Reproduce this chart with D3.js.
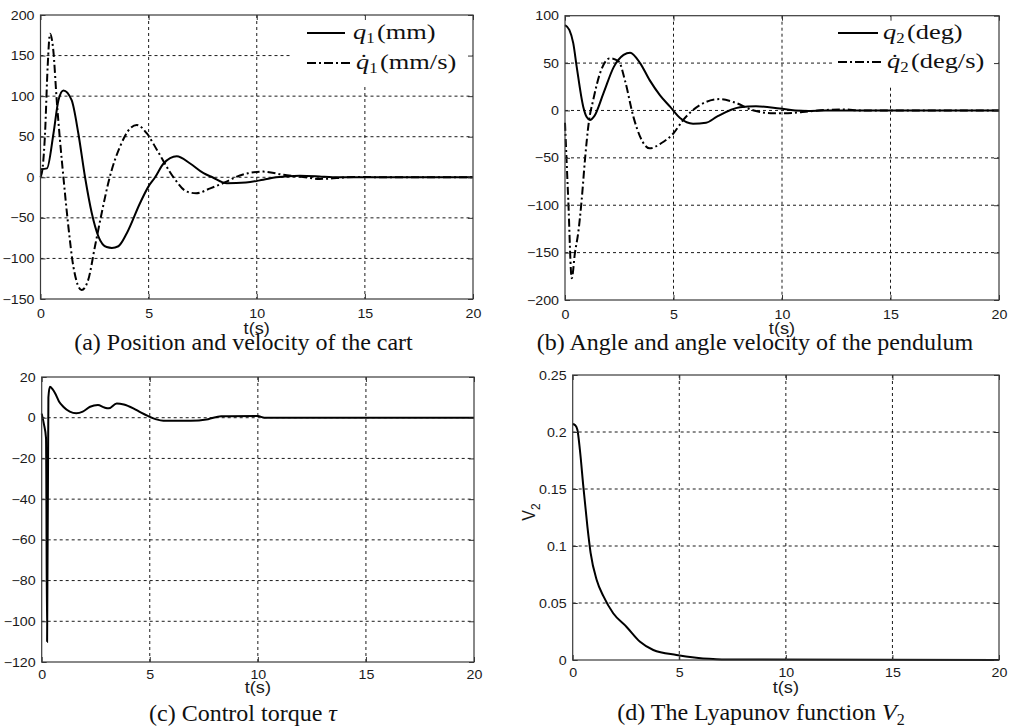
<!DOCTYPE html>
<html>
<head>
<meta charset="utf-8">
<script src="https://cdn.jsdelivr.net/npm/d3@7"></script>
<style>
  body { margin: 0; background: #fff; }
  .tick text { font-family: Arial, "Liberation Sans", sans-serif; font-size: 12.5px; fill: #1a1a1a; }
  .xlab { font-family: Arial, "Liberation Sans", sans-serif; font-size: 16px; fill: #1a1a1a; }
  .cap { font-family: "Liberation Serif", "Times New Roman", serif; font-size: 24px; fill: #111; }
  .leg { font-family: "Liberation Serif", "Times New Roman", serif; font-size: 22px; fill: #111; }
</style>
</head>
<body>
<div id="chart"></div>
<script>
/* CONSTANTS */
const width = 1011, height = 727,
  S = 1.14; // the figure text is a bit wider than tall

/* DATA */
const tTicks = [0, 5, 10, 15, 20];

// (a) cart
const q1T = [0, 0.3, 0.6, 0.83, 1.06, 1.44, 1.75, 2.06, 2.37, 2.68, 3.06, 3.3, 3.6, 3.99, 4.6, 4.99, 5.3, 5.69, 6.3, 6.92, 7.54, 7.95, 8.62, 9.5, 10.3, 10.9, 12, 12.9, 13.5, 20];
const q1V = [10, 11, 54, 95, 107, 95, 54, 0, -44, -73, -86, -87, -85, -69, -32, -11.5, 0, 17, 26, 17, 5, 0, -7.4, -6.5, -3, 0, 2, 1, 0, 0];
const q1dT = [0, 0.1, 0.21, 0.33, 0.44, 0.59, 0.75, 0.9, 1.06, 1.29, 1.52, 1.9, 2.2, 2.52, 2.83, 3.2, 3.68, 4.14, 4.45, 4.92, 5.38, 6.15, 6.77, 7.2, 7.85, 8.6, 9.0, 9.6, 10.3, 11.24, 12, 12.9, 13.7, 14.5, 16, 20];
const q1dV = [0, 12, 54, 136, 177, 157, 95, 46, 0, -61, -110, -139, -127, -85, -44, 0, 38, 60, 64.5, 54, 34, 0, -17.7, -19.7, -13.6, -5.4, 0, 5, 7, 3, 1, -2, -1, 0.5, 0, 0];

// (b) pendulum
const q2T = [0, 0.2, 0.38, 0.54, 0.84, 1.0, 1.15, 1.35, 1.77, 2.25, 2.7, 3.0, 3.46, 3.9, 4.38, 4.84, 5.3, 5.9, 6.5, 7.0, 8.06, 8.8, 9.9, 10.6, 11.2, 12, 20];
const q2V = [90, 85, 71, 46, 4, -7, -10, -6, 18, 46, 58.6, 61, 50, 32, 16, 4, -8, -14, -13, -6.5, 3.3, 4.5, 2, 0, -0.5, 0, 0];
const q2dT = [0, 0.15, 0.31, 0.46, 0.61, 0.77, 0.92, 1.1, 1.3, 1.61, 2.07, 2.48, 2.76, 3.15, 3.46, 3.9, 4.43, 5.0, 5.45, 5.9, 6.5, 7.15, 7.75, 8.7, 9.6, 10.5, 11.2, 12, 13, 13.5, 20];
const q2dV = [-13, -94, -177, -150, -129, -94, -52, -12, 11, 39, 55, 51.5, 32, -6.5, -27.6, -40, -34.6, -24, -10, 0.5, 9, 12, 9, 0, -3, -2.5, -1, 0.5, 1, 0, 0];

// (c) control torque
const tauT = [0, 0.1, 0.2, 0.25, 0.31, 0.38, 0.5, 0.62, 0.8, 1.0, 1.3, 1.6, 1.9, 2.24, 2.6, 2.9, 3.1, 3.47, 3.8, 4.24, 4.6, 4.93, 5.3, 5.63, 6.9, 7.7, 8.3, 10, 10.3, 20];
const tauV = [2, -3, -10, -110, 10, 15.2, 14, 12, 8, 5.4, 3, 2.2, 3, 5.4, 6.2, 5, 4.6, 7, 6.5, 4.6, 2.5, 0.8, -0.8, -1.5, -1.5, -0.7, 0.7, 0.8, 0, 0];

// (d) Lyapunov function
const v2T = [0, 0.12, 0.22, 0.34, 0.5, 0.69, 0.84, 1.13, 1.44, 1.9, 2.53, 3.16, 3.78, 4.87, 5.8, 6.4, 7, 20];
const v2V = [0.207, 0.206, 0.202, 0.184, 0.152, 0.117, 0.094, 0.070, 0.056, 0.041, 0.029, 0.016, 0.0088, 0.0044, 0.002, 0.001, 0.0005, 0];

const aTicks = [-150, -100, -50, 0, 50, 100, 150, 200];
const bTicks = [-200, -150, -100, -50, 0, 50, 100];
const cTicks = [-120, -100, -80, -60, -40, -20, 0, 20];
const dTicks = [0, 0.05, 0.1, 0.15, 0.2, 0.25];

const svg = d3.select("#chart").append("svg")
  .attr("width", width).attr("height", height);

// text placed at (x,y) and widened a little
function wide(sel, x, y, k) {
  return sel.attr("transform", `translate(${x},${y}) scale(${k || S},1)`);
}

function panel(p) {
  const g = svg.append("g");
  const x = d3.scaleLinear().domain([0, 20]).range([p.left, p.right]);
  const y = d3.scaleLinear().domain(d3.extent(p.yTicks)).range([p.bottom, p.top]);

  // grid
  g.selectAll("line.vg").data(tTicks.slice(1, -1)).join("line")
    .attr("class", "vg")
    .attr("x1", d => x(d)).attr("x2", d => x(d))
    .attr("y1", p.top).attr("y2", p.bottom);
  g.selectAll("line.hg").data(p.yTicks.slice(1, -1)).join("line")
    .attr("class", "hg")
    .attr("x1", p.left).attr("x2", p.right)
    .attr("y1", d => y(d)).attr("y2", d => y(d));
  g.selectAll("line.vg, line.hg")
    .attr("stroke", "#000").attr("stroke-width", 0.9).attr("stroke-dasharray", "3,3");

  // curves
  const line = d3.line().x(d => x(d[0])).y(d => y(d[1])).curve(d3.curveMonotoneX);
  p.series.forEach(s => {
    g.append("path")
      .datum(d3.zip(s.t, s.v))
      .attr("d", line)
      .attr("fill", "none")
      .attr("stroke", "#000")
      .attr("stroke-width", 2)
      .attr("stroke-dasharray", s.dash ? "8,3,2,3" : null);
  });

  // legend
  if (p.legend) {
    const L = p.legend;
    g.append("rect").attr("x", L.x).attr("y", p.top + 1)
      .attr("width", p.right - L.x - 1).attr("height", L.h).attr("fill", "#fff");
    L.items.forEach(it => {
      g.append("line")
        .attr("x1", it.x1).attr("x2", it.x2).attr("y1", it.y).attr("y2", it.y)
        .attr("stroke", "#000").attr("stroke-width", 2.2)
        .attr("stroke-dasharray", it.dash ? "9,3,2,3" : null);
      const t = wide(g.append("text").attr("class", "leg"), it.tx, it.ty, 1.2);
      t.append("tspan").attr("font-style", "italic").text(it.dot ? "q\u0307" : "q");
      t.append("tspan").attr("font-size", 14).attr("dy", 4).text(it.sub);
      t.append("tspan").attr("dy", -4).attr("dx", 2).text(it.unit);
    });
  }

  // axes with inward ticks
  const ax = g.append("g").attr("transform", `translate(0,${p.bottom})`)
    .call(d3.axisBottom(x).tickValues(tTicks).tickSizeInner(-5).tickSizeOuter(0));
  ax.selectAll(".tick text").attr("y", p.xTickY).attr("dy", null)
    .attr("transform", `scale(${S},1)`);
  const ay = g.append("g").attr("transform", `translate(${p.left},0)`)
    .call(d3.axisLeft(y).tickValues(p.yTicks).tickFormat(p.fmt || d3.format("d"))
      .tickSizeInner(-5).tickSizeOuter(0));
  ay.selectAll(".tick text").attr("x", -6 / S).attr("transform", `scale(${S},1)`);
  g.append("g").attr("transform", `translate(0,${p.top})`)
    .call(d3.axisTop(x).tickValues(tTicks).tickFormat("").tickSizeInner(-5).tickSizeOuter(0));
  g.append("g").attr("transform", `translate(${p.right},0)`)
    .call(d3.axisRight(y).tickValues(p.yTicks).tickFormat("").tickSizeInner(-5).tickSizeOuter(0));
  g.selectAll(".domain").remove();
  g.selectAll(".tick line").attr("stroke", "#333");

  // frame
  g.append("rect").attr("x", p.left).attr("y", p.top)
    .attr("width", p.right - p.left).attr("height", p.bottom - p.top)
    .attr("fill", "none").attr("stroke", "#3a3a3a").attr("stroke-width", 1.2);

  // x label
  wide(g.append("text").attr("class", "xlab").attr("text-anchor", "middle"),
    (p.left + p.right) / 2, p.bottom + p.xLabY).text("t(s)");

  // caption
  const c = g.append("text").attr("class", "cap").attr("text-anchor", "middle")
    .attr("x", p.capX).attr("y", p.capY).attr("font-size", p.capSize);
  p.caption(c);
}

panel({
  left: 40.5, right: 473, top: 15, bottom: 299,
  yTicks: aTicks, xTickY: 19.5, xLabY: 34.5,
  series: [{ t: q1T, v: q1V }, { t: q1dT, v: q1dV, dash: true }],
  legend: {
    x: 290, h: 71, items: [
      { x1: 307, x2: 345, y: 33, tx: 353, ty: 39, sub: "1", unit: "(mm)" },
      { x1: 307, x2: 353, y: 63, tx: 356, ty: 68.5, sub: "1", unit: "(mm/s)", dash: true, dot: true }
    ]
  },
  capX: 243.5, capY: 350, capSize: 24.2,
  caption: c => c.text("(a) Position and velocity of the cart")
});

panel({
  left: 565, right: 999, top: 15.7, bottom: 300,
  yTicks: bTicks, xTickY: 19.5, xLabY: 33.5,
  series: [{ t: q2T, v: q2V }, { t: q2dT, v: q2dV, dash: true }],
  legend: {
    x: 833, h: 70, items: [
      { x1: 838, x2: 878, y: 33, tx: 883, ty: 39, sub: "2", unit: "(deg)" },
      { x1: 838, x2: 883, y: 62, tx: 887, ty: 68, sub: "2", unit: "(deg/s)", dash: true, dot: true }
    ]
  },
  capX: 755, capY: 350, capSize: 25.2,
  caption: c => c.text("(b) Angle and angle velocity of the pendulum")
});

panel({
  left: 41.7, right: 474, top: 377, bottom: 662,
  yTicks: cTicks, xTickY: 17.3, xLabY: 30.5,
  series: [{ t: tauT, v: tauV }],
  capX: 243, capY: 721, capSize: 24,
  caption: c => {
    c.append("tspan").text("(c) Control torque ");
    c.append("tspan").attr("font-style", "italic").text("τ");
  }
});

panel({
  left: 572.7, right: 999, top: 375, bottom: 660,
  yTicks: dTicks, xTickY: 17, xLabY: 33,
  fmt: d => d === 0 ? "0" : d3.format("")(d),
  series: [{ t: v2T, v: v2V }],
  capX: 761, capY: 720, capSize: 24,
  caption: c => {
    c.append("tspan").text("(d) The Lyapunov function ");
    c.append("tspan").attr("font-style", "italic").text("V");
    c.append("tspan").attr("font-size", 16).attr("dy", 5).text("2");
  }
});

// y label of (d)
const vl = svg.append("text").attr("class", "xlab").attr("text-anchor", "middle")
  .attr("transform", `translate(535,512) scale(${S},1) rotate(-90)`);
vl.append("tspan").text("V");
vl.append("tspan").attr("font-size", 12).attr("dy", 4).text("2");
</script>
</body>
</html>
